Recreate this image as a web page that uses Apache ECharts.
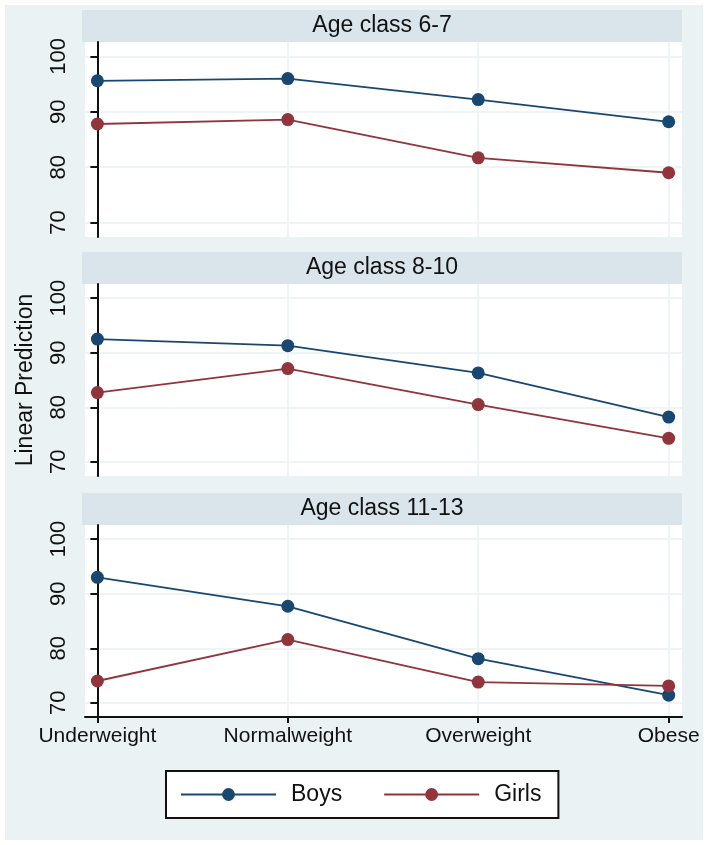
<!DOCTYPE html>
<html lang="en">
<head>
    <meta charset="UTF-8">
    <title>Linear Prediction by age class</title>
    <style>
        html, body { margin: 0; padding: 0; background: #fff; }
    </style>
</head>
<body>
<div id="main" style="width: 708px; height: 845px;"></div>
<script src="https://cdn.jsdelivr.net/npm/echarts@6/dist/echarts.min.js"></script>
<script type="text/javascript">
    var categories = ['Underweight', 'Normalweight', 'Overweight', 'Obese'];
    var panels = ['Age class 6-7', 'Age class 8-10', 'Age class 11-13'];
    var yTicks = [70, 80, 90, 100];

    // Boys / Girls per age class
    var boys6_7 = [95.6, 96.0, 92.2, 88.2];
    var girls6_7 = [87.8, 88.6, 81.7, 79.0];
    var boys8_10 = [92.5, 91.3, 86.3, 78.2];
    var girls8_10 = [82.7, 87.1, 80.5, 74.3];
    var boys11_13 = [93.0, 87.7, 78.1, 71.4];
    var girls11_13 = [74.0, 81.6, 73.8, 73.1];

    var boysColor = '#1A476F';
    var girlsColor = '#90353B';
    var font = 'Liberation Sans, Arial, Helvetica, sans-serif';

    var boysAll = [boys6_7, boys8_10, boys11_13];
    var girlsAll = [girls6_7, girls8_10, girls11_13];

    // plot boxes (pixels)
    var gridTops = [42, 284, 525];
    var gridHeights = [195, 192, 192];
    var headerTops = [10, 252, 493];

    var toPairs = function (vals) {
        var res = [];
        for (var i = 0; i < vals.length; i++) {
            res.push([i, vals[i]]);
        }
        return res;
    };
    var xIdx = categories.map(function (c, i) { return i; });

    var grids = [], xAxes = [], yAxes = [], series = [], graphics = [];

    graphics.push({
        type: 'rect', z: -10,
        shape: {x: 5, y: 5, width: 698, height: 835},
        style: {fill: '#EAF2F3'}
    });

    for (var p = 0; p < 3; p++) {
        var last = (p === 2);
        grids.push({
            left: 85, top: gridTops[p], width: 597, height: gridHeights[p],
            show: true, backgroundColor: '#fff', borderWidth: 0
        });
        graphics.push({
            type: 'rect', z: -5,
            shape: {x: 82, y: headerTops[p], width: 600, height: 32},
            style: {fill: '#D9E4EB'}
        });
        graphics.push({
            type: 'text', z: 5,
            x: 382, y: headerTops[p] + 16,
            style: {
                text: panels[p], fill: '#111', font: '23px ' + font,
                textAlign: 'center', textVerticalAlign: 'middle'
            }
        });
        xAxes.push({
            type: 'value', gridIndex: p,
            min: -0.065, max: 3.07,
            axisLine: {show: last, onZero: false, lineStyle: {color: '#111', width: 2}},
            axisTick: {show: last, customValues: xIdx, length: 6, lineStyle: {color: '#111', width: 2}},
            axisLabel: {
                show: last, customValues: xIdx, margin: 9,
                fontSize: 21, fontFamily: font, color: '#111',
                formatter: function (v) { return categories[Math.round(v)]; }
            },
            splitLine: {show: true, lineStyle: {color: '#EAF2F3', width: 1.5}}
        });
        yAxes.push({
            type: 'value', gridIndex: p,
            min: 67.4, max: 102.6,
            name: p === 1 ? 'Linear Prediction' : '',
            nameLocation: 'middle', nameGap: 48,
            nameTextStyle: {fontSize: 23, fontFamily: font, color: '#111'},
            axisLine: {show: true, lineStyle: {color: '#111', width: 2}},
            axisTick: {show: true, customValues: yTicks, length: 7, lineStyle: {color: '#111', width: 2}},
            axisLabel: {
                customValues: yTicks, rotate: 90, margin: 15,
                fontSize: 22, fontFamily: font, color: '#111'
            },
            splitLine: {show: true, lineStyle: {color: '#EAF2F3', width: 1.5}}
        });
        series.push({
            name: 'Boys', type: 'line', xAxisIndex: p, yAxisIndex: p,
            data: toPairs(boysAll[p]),
            symbol: 'circle', symbolSize: 13,
            lineStyle: {color: boysColor, width: 1.8},
            itemStyle: {color: boysColor},
            z: 3
        });
        series.push({
            name: 'Girls', type: 'line', xAxisIndex: p, yAxisIndex: p,
            data: toPairs(girlsAll[p]),
            symbol: 'circle', symbolSize: 13,
            lineStyle: {color: girlsColor, width: 1.8},
            itemStyle: {color: girlsColor},
            z: 3
        });
    }

    var chart = echarts.init(document.getElementById('main'));
    var option = {
        backgroundColor: '#fff',
        animation: false,
        grid: grids,
        xAxis: xAxes,
        yAxis: yAxes,
        legend: {
            data: ['Boys', 'Girls'],
            left: 166, top: 771,
            padding: [12, 17, 12, 14],
            backgroundColor: '#fff',
            borderColor: '#111', borderWidth: 2, borderRadius: 0,
            itemWidth: 95, itemHeight: 16, itemGap: 41,
            textStyle: {fontSize: 23, fontFamily: font, color: '#111', padding: [0, 0, 0, 10]}
        },
        graphic: graphics,
        series: series
    };
    chart.setOption(option);
</script>
</body>
</html>
